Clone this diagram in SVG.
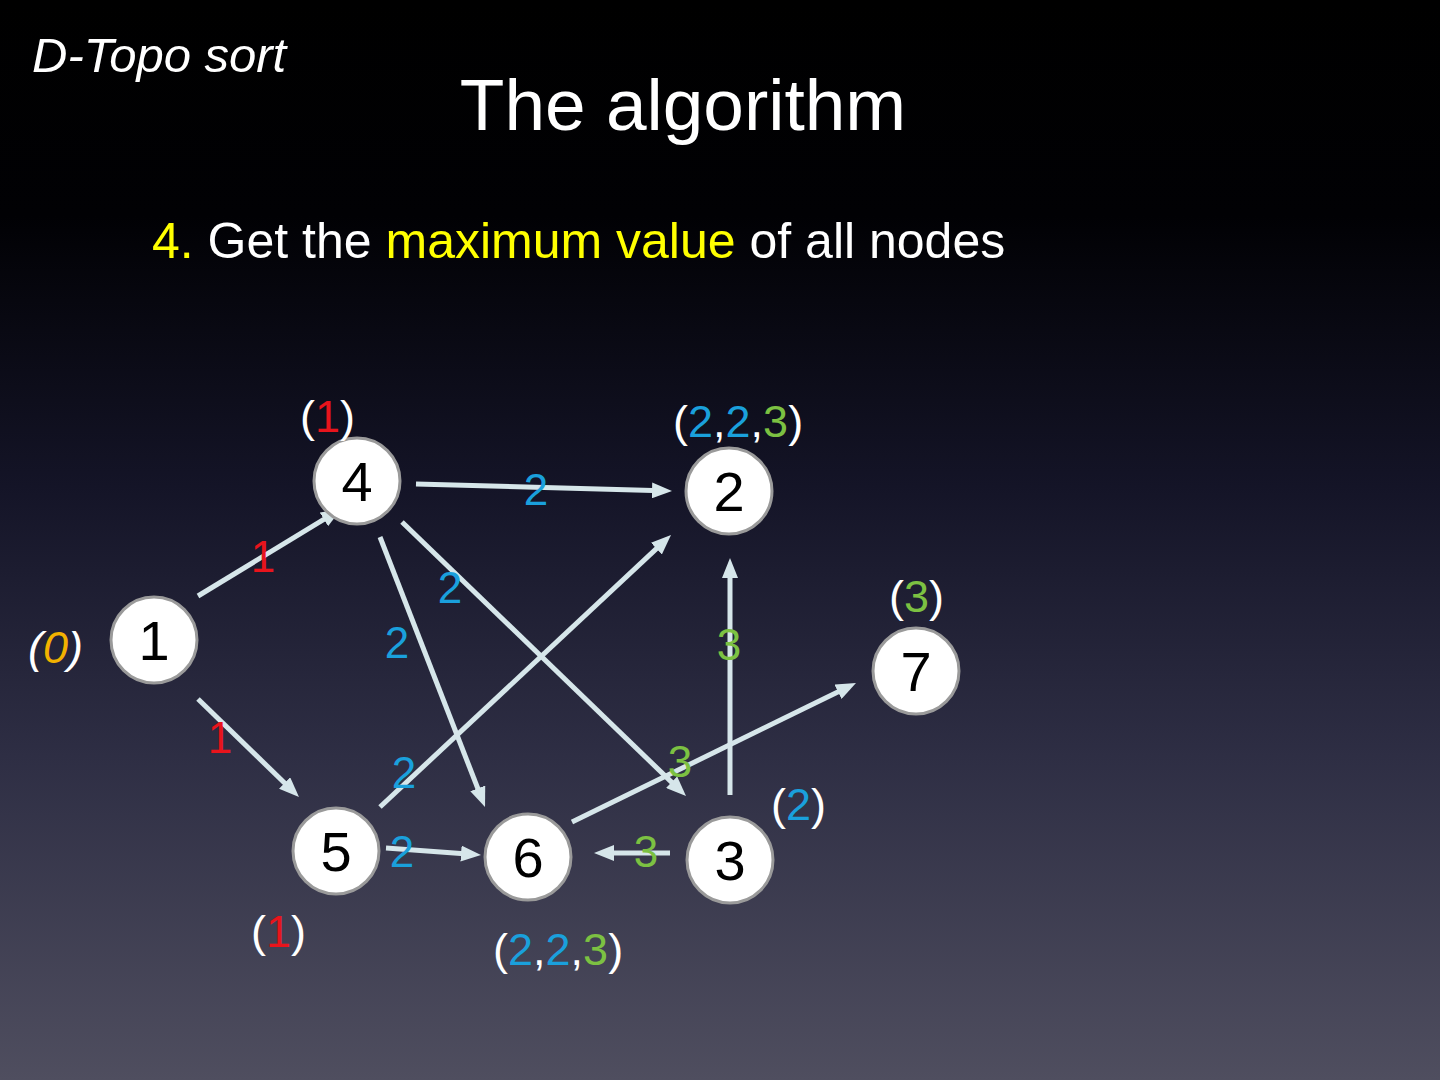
<svg xmlns="http://www.w3.org/2000/svg" width="1440" height="1080" viewBox="0 0 1440 1080">
<defs>
<linearGradient id="bg" x1="0" y1="0" x2="0" y2="1">
<stop offset="0" stop-color="#000000"/>
<stop offset="0.2" stop-color="#010104"/>
<stop offset="0.45" stop-color="#141427"/>
<stop offset="0.7" stop-color="#2e2e44"/>
<stop offset="1" stop-color="#4f4e5f"/>
</linearGradient>
<marker id="ah" markerUnits="userSpaceOnUse" markerWidth="20" markerHeight="16" refX="10" refY="8" orient="auto">
<path d="M0,0 L20,8 L0,16 z" fill="#d6e6ea"/>
</marker>
</defs>
<style>
.t{font-family:"Liberation Sans",Arial,sans-serif;fill:#ffffff}
.node circle{fill:#ffffff;stroke:#9a9a9a;stroke-width:3}
.node text{font-family:"Liberation Sans",Arial,sans-serif;font-size:56px;fill:#000000;text-anchor:middle}
.edge{stroke:#d6e6ea;stroke-width:5;fill:none;marker-end:url(#ah)}
.lab{font-family:"Liberation Sans",Arial,sans-serif;font-size:45px;fill:#ffffff}
.el{font-family:"Liberation Sans",Arial,sans-serif;font-size:44px;text-anchor:middle}
.b{fill:#1aa0dc}.r{fill:#e8141c}.g{fill:#7cc142}.o{fill:#f2b200}.y{fill:#ffff00}
</style>
<rect x="0" y="0" width="1440" height="1080" fill="url(#bg)"/>
<text class="t" x="32" y="72" font-size="49" font-style="italic">D-Topo sort</text>
<text class="t" x="683" y="130" font-size="73" text-anchor="middle">The algorithm</text>
<text class="t" x="152" y="258" font-size="50"><tspan class="y">4.</tspan> Get the <tspan class="y">maximum value</tspan> of all nodes</text>

<g id="connectors">
<line class="edge" x1="198" y1="596" x2="332.5" y2="514.2"/>
<line class="edge" x1="198" y1="699" x2="291.8" y2="790"/>
<line class="edge" x1="416" y1="484" x2="662" y2="490.7"/>
<line class="edge" x1="380" y1="537" x2="481.4" y2="797.7"/>
<line class="edge" x1="402" y1="522" x2="678.8" y2="789.1"/>
<line class="edge" x1="380" y1="807" x2="663.7" y2="541.8"/>
<line class="edge" x1="386" y1="848" x2="471" y2="854.3"/>
<line class="edge" x1="572" y1="822" x2="847" y2="687.4"/>
<line class="edge" x1="730" y1="795" x2="730" y2="568"/>
<line class="edge" x1="670" y1="853" x2="604" y2="853"/>
<text class="el b" x="536" y="505">2</text>
<text class="el r" x="263" y="572">1</text>
<text class="el b" x="450" y="603">2</text>
<text class="el b" x="397" y="658">2</text>
<text class="el g" x="729" y="660">3</text>
<text class="el r" x="220" y="753">1</text>
<text class="el b" x="404" y="788">2</text>
<text class="el g" x="680" y="777">3</text>
<text class="el b" x="402" y="867">2</text>
<text class="el g" x="646" y="867">3</text>
</g>

<g id="node1" class="node"><circle cx="154" cy="640" r="43"/><text x="154" y="660">1</text></g>
<g id="node4" class="node"><circle cx="357" cy="481" r="43"/><text x="357" y="501">4</text></g>
<g id="node2" class="node"><circle cx="729" cy="491" r="43"/><text x="729" y="511">2</text></g>
<g id="node7" class="node"><circle cx="916" cy="671" r="43"/><text x="916" y="691">7</text></g>
<g id="node5" class="node"><circle cx="336" cy="851" r="43"/><text x="336" y="871">5</text></g>
<g id="node6" class="node"><circle cx="528" cy="857" r="43"/><text x="528" y="877">6</text></g>
<g id="node3" class="node"><circle cx="730" cy="860" r="43"/><text x="730" y="880">3</text></g>

<g id="values">
<text class="lab" x="300" y="432">(<tspan class="r">1</tspan>)</text>
<text class="lab" x="673" y="437">(<tspan class="b">2</tspan>,<tspan class="b">2</tspan>,<tspan class="g">3</tspan>)</text>
<text class="lab" x="889" y="612">(<tspan class="g">3</tspan>)</text>
<text class="lab" x="28" y="663" font-style="italic">(<tspan class="o">0</tspan>)</text>
<text class="lab" x="771" y="820">(<tspan class="b">2</tspan>)</text>
<text class="lab" x="251" y="947">(<tspan class="r">1</tspan>)</text>
<text class="lab" x="493" y="965">(<tspan class="b">2</tspan>,<tspan class="b">2</tspan>,<tspan class="g">3</tspan>)</text>
</g>
</svg>
